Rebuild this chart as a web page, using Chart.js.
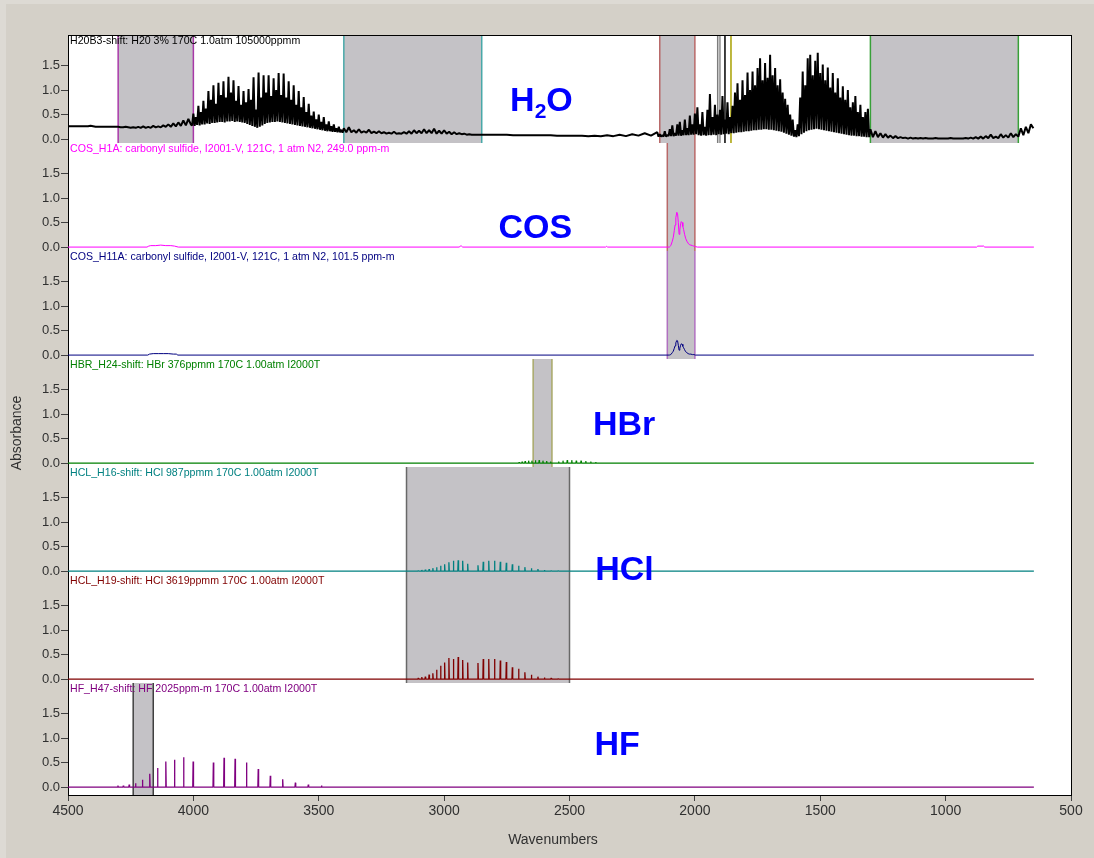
<!DOCTYPE html>
<html>
<head>
<meta charset="utf-8">
<title>Reference spectra</title>
<script src="https://cdn.jsdelivr.net/npm/chart.js@4.4.1/dist/chart.umd.min.js"></script>
<style>
  html, body { margin: 0; padding: 0; background: #d4d0c8; overflow: hidden; }
  #wrap { position: relative; width: 1094px; height: 858px; }
  #edge { position: absolute; left: 0; top: 0; width: 1094px; height: 858px; box-sizing: border-box;
          border-top: 4px solid #dddad4; border-left: 6px solid #dddad4; }
  #spectra { position: absolute; left: 0; top: 0; }
</style>
</head>
<body>
<div id="wrap"><div id="edge"></div><canvas id="spectra" width="1094" height="858"></canvas></div>
<script>
var FONT = '"Liberation Sans", Arial, sans-serif';

// axes
var xTicks = [4500, 4000, 3500, 3000, 2500, 2000, 1500, 1000, 500];
var yTicks = [0, 0.5, 1.0, 1.5];

// one entry per stacked panel, top to bottom
var panelTitles = [
  'H20B3-shift: H20 3% 170C 1.0atm 105000ppmm',
  'COS_H1A: carbonyl sulfide, I2001-V, 121C, 1 atm N2, 249.0 ppm-m',
  'COS_H11A: carbonyl sulfide, I2001-V, 121C, 1 atm N2, 101.5 ppm-m',
  'HBR_H24-shift: HBr 376ppmm 170C 1.00atm I2000T',
  'HCL_H16-shift: HCl 987ppmm 170C 1.00atm I2000T',
  'HCL_H19-shift: HCl 3619ppmm 170C 1.00atm I2000T',
  'HF_H47-shift: HF 2025ppm-m 170C 1.00atm I2000T'
];
var panelColors = ['#000000', '#ff00ff', '#000080', '#008000', '#008080', '#800000', '#800080'];
var panelMin = [-0.08, -0.08, -0.08, -0.08, -0.08, -0.08, -0.162];
var panelMax = 2.124;
var panelHeights = [108, 108, 108, 108, 108, 108, 112];

// big gas names
var bigLabels = ['H2O', 'COS', 'HBr', 'HCl', 'HF'];
var bigPanel = [0, 1, 3, 4, 6];
var bigWn = [2612, 2636, 2282, 2281, 2310];
var bigBase = [0.58, 0.19, 0.58, -0.18, 0.65];

// grey analysis regions (cm-1)
var regionPanel = [0, 0, 0, 0, 1, 2, 3, 4, 5, 6];
var regionFrom = [4300, 3400, 2140, 1300, 2110, 2110, 2645, 3150, 3150, 4240];
var regionTo = [4000, 2850, 2000, 710, 2000, 2000, 2570, 2500, 2500, 4160];
var regionEdge = ['#a838a8', '#48a8a8', '#b86868', '#38a038', '#b86868', '#b070c0', '#a8a868', '#686868', '#686868', '#404040'];

// off-scale water lines in the top panel
var markWn = [1909, 1900, 1880, 1856];
var markColor = ['#7c7c7c', '#8c8c8c', '#000000', '#a8a000'];

var h2oStart = [4500, 4005, 3400, 2850, 2145, 1300];
var h2oStep = [10, 5, 10, 25, 5, 10];
var h2oA = [
  .26,.26,.26,.26,.26,.26,.26,.26,.26,.27,
  .26,.25,.25,.25,.25,.25,.25,.25,.25,.25,
  .25,.24,.24,.25,.24,.23,.24,.23,.25,.23,
  .26,.23,.25,.23,.27,.24,.26,.24,.28,.25,
  .30,.25,.32,.26,.34,.27,.38,.28,.41,.30
];
var h2oB = [
  .28,.52,.27,.45,.29,.68,.28,.55,.30,.78,
  .30,.62,.32,.98,.31,.80,.33,1.10,.33,.72,
  .34,1.15,.35,.90,.35,1.18,.34,.85,.36,1.27,
  .36,.95,.37,1.20,.35,.78,.36,1.08,.35,.70,
  .34,.98,.33,.75,.31,1.02,.29,.80,.27,1.26,
  .25,.60,.23,1.36,.25,.85,.28,1.30,.31,.95,
  .33,1.30,.34,.88,.35,1.24,.35,1.00,.36,1.35,
  .35,.90,.34,1.34,.33,.85,.32,1.18,.31,.80,
  .30,1.10,.29,.70,.28,.98,.27,.65,.26,.86,
  .25,.55,.24,.72,.23,.48,.22,.56,.21,.40,
  .20,.50,.19,.35,.18,.45,.17,.30,.16,.36,
  .16,.26,.15,.30,.15,.22,.14,.25,.14,.19,
  .13
];
var h2oC = [
  .22,.14,.24,.14,.18,.13,.20,.13,.16,.13,
  .19,.12,.15,.12,.16,.12,.14,.11,.13,.11,
  .15,.11,.12,.11,.14,.11,.16,.11,.18,.12,
  .17,.12,.20,.12,.18,.12,.21,.11,.17,.11,
  .18,.11,.15,.10,.14,.10,.12,.10,.11,.09,
  .10,.09,.09,.09,.09
];
var h2oD = [
  .09,.09,.09,.09,.09,.08,.08,.08,.08,.08,
  .08,.08,.07,.07,.07,.07,.07,.06,.07,.06,
  .08,.06,.09,.06,.10,.07,.12,.07,.14
];
var h2oE = [
  .05,.10,.05,.08,.05,.16,.05,.09,.06,.20,
  .06,.28,.06,.12,.07,.30,.07,.35,.07,.18,
  .08,.40,.08,.22,.08,.48,.09,.30,.09,.52,
  .10,.65,.08,.30,.07,.55,.08,.25,.07,.60,
  .08,.92,.08,.45,.09,.70,.08,.50,.10,.60,
  .09,.88,.10,.40,.11,.75,.10,.45,.12,.68,
  .12,.95,.13,1.14,.14,.80,.14,1.20,.15,.90,
  .16,1.36,.16,1.00,.17,1.38,.18,1.10,.18,1.45,
  .19,1.65,.19,1.20,.20,1.55,.20,1.25,.19,1.72,
  .19,1.30,.18,1.45,.17,1.10,.16,1.22,.15,.95,
  .13,.82,.11,.70,.09,.50,.07,.40,.05,.18,
  .04,.30,.06,.85,.10,1.38,.13,1.10,.16,1.65,
  .18,1.72,.19,1.30,.20,1.60,.21,1.76,.20,1.35,
  .19,1.52,.18,1.20,.17,1.46,.16,1.05,.15,1.35,
  .14,.95,.13,1.24,.12,.85,.11,1.08,.10,.80,
  .09,1.00,.08,.65,.07,.75,.07,.88,.06,.55,
  .06,.70,.05,.45,.05,.55,.04,.62,
  .04
];
var h2oF = [
  .20,.04,.16,.04,.12,.03,.10,.03,.07,.02,
  .06,.02,.04,.02,.03,.01,.03,.01,.02,.01,
  .02,.01,.02,.01,.01,.01,.02,.01,.01,.01,
  .01,.01,.02,.01,.01,.01,.01,.01,.02,.01,
  .03,.01,.04,.01,.05,.01,.06,.02,.09,.02,
  .05,.02,.10,.03,.08,.03,.12,.04,.10,.05,
  .22,.08,.25,.12,.30,.22
];

// COS, 249.0 ppm-m and 101.5 ppm-m
var cos1Wn = [4500, 4185, 4178, 4170, 4150, 4130, 4110, 4090, 4075, 4060,
  2940, 2936, 2930, 2926, 2356, 2352, 2348,
  2102, 2096, 2090, 2086, 2082, 2079, 2076, 2072, 2069, 2066,
  2063, 2060, 2057, 2054, 2051, 2048, 2045, 2041, 2037, 2032,
  2027, 2022, 2016, 2010, 2004, 1998, 1990, 876, 872, 848, 844, 648];
var cos1Abs = [0, 0, .02, .03, .03, .04, .03, .03, .02, 0,
  0, .02, .02, 0, 0, .015, 0,
  0, .03, .12, .20, .34, .45, .60, .71, .68, .50,
  .26, .35, .48, .52, .50, .42, .36, .26, .18, .12,
  .08, .05, .04, .03, .02, .01, 0, 0, .02, .02, 0, 0];
var cos2Wn = [4500, 4182, 4175, 4160, 4140, 4120, 4100, 4080, 4068, 4062,
  2102, 2096, 2090, 2086, 2082, 2079, 2076, 2072, 2069, 2066,
  2063, 2060, 2057, 2054, 2051, 2048, 2045, 2041, 2037, 2032,
  2027, 2022, 2016, 2010, 2004, 1998, 648];
var cos2Abs = [0, 0, .02, .03, .03, .03, .03, .02, .02, 0,
  0, .01, .05, .08, .14, .19, .25, .30, .29, .20,
  .10, .14, .20, .23, .22, .18, .15, .11, .07, .05,
  .03, .02, .02, .01, .01, 0, 0];

// HBr line positions and peak absorbance
var hbrWn = [2701, 2689, 2677, 2663, 2650, 2636, 2621, 2606, 2591, 2575,
  2543, 2526, 2509, 2491, 2473, 2454, 2435, 2415, 2395];
var hbrAbs = [.02, .03, .04, .05, .05, .06, .06, .05, .04, .03,
  .03, .05, .06, .06, .05, .05, .04, .03, .02];

// HCl lines, 987 ppmm and 3619 ppmm
var hclWn = [3103, 3089, 3075, 3060, 3045, 3030, 3014, 2998, 2981, 2963, 2944, 2926, 2906,
  2865, 2844, 2822, 2799, 2776, 2752, 2728, 2703, 2678, 2652, 2626, 2600, 2573, 2545];
var hcl16Abs = [.01, .02, .03, .04, .06, .08, .11, .14, .18, .21, .22, .21, .15,
  .12, .19, .21, .21, .19, .17, .14, .11, .08, .06, .04, .02, .01, .005];
var hcl19Abs = [.02, .04, .05, .09, .12, .19, .27, .34, .43, .41, .45, .39, .34,
  .33, .41, .41, .41, .38, .35, .24, .21, .14, .09, .05, .03, .02, .01];

// HF lines
var hfWn = [4300.8, 4279.4, 4256.0, 4230.6, 4203.2, 4174.0, 4142.8, 4109.9, 4075.3, 4039.0, 4001.0,
  3920.3, 3877.7, 3833.7, 3788.2, 3741.4, 3693.2, 3643.8, 3593.3, 3541.7, 3489.1];
var hfAbs = [.03, .03, .05, .08, .15, .27, .39, .52, .56, .61, .52,
  .50, .60, .58, .50, .37, .23, .16, .09, .05, .03];

// ---- build the point lists the library wants ----
function pairs(wn, abs) {
  return wn.map(function (w, i) { return {x: w, y: abs[i]}; });
}

function sticks(wn, abs) {
  var pts = [{x: 4500, y: 0}];
  for (var i = 0; i < wn.length; i++) {
    pts.push({x: wn[i] + 1.5, y: 0}, {x: wn[i], y: abs[i]}, {x: wn[i] - 1.5, y: 0});
  }
  pts.push({x: 648, y: 0});
  return pts;
}

var h2oPoints = [];
[h2oA, h2oB, h2oC, h2oD, h2oE, h2oF].forEach(function (part, k) {
  part.forEach(function (v, i) { h2oPoints.push({x: h2oStart[k] - i * h2oStep[k], y: v}); });
});

var traces = [
  h2oPoints,
  pairs(cos1Wn, cos1Abs),
  pairs(cos2Wn, cos2Abs),
  sticks(hbrWn, hbrAbs),
  sticks(hclWn, hcl16Abs),
  sticks(hclWn, hcl19Abs),
  sticks(hfWn, hfAbs)
];
var traceWidth = [2, 1, 1, 1.2, 1.3, 1.3, 1.3];

var datasets = [];

// grey regions, drawn first (highest order = bottom)
regionFrom.forEach(function (from, i) {
  var p = regionPanel[i];
  datasets.push({
    data: [{x: from, y: panelMin[p]}, {x: from, y: panelMax}, {x: regionTo[i], y: panelMax}, {x: regionTo[i], y: panelMin[p]}],
    yAxisID: 'p' + p,
    borderColor: regionEdge[i],
    borderWidth: 1.5,
    backgroundColor: '#c4c2c6',
    fill: 'start',
    segment: { borderColor: function (ctx) { return ctx.p0DataIndex === 1 ? 'rgba(0,0,0,0)' : undefined; } },
    order: 3
  });
});

markWn.forEach(function (w, i) {
  datasets.push({
    data: [{x: w, y: panelMin[0]}, {x: w, y: panelMax}],
    yAxisID: 'p0',
    borderColor: markColor[i],
    borderWidth: 1.5,
    fill: false,
    order: 2
  });
});

traces.forEach(function (pts, i) {
  datasets.push({
    data: pts,
    yAxisID: 'p' + i,
    borderColor: panelColors[i],
    borderWidth: traceWidth[i],
    borderJoinStyle: 'bevel',
    fill: false,
    order: 1
  });
});

// ---- scales: one shared x axis, seven stacked y axes ----
var scales = {
  x: {
    type: 'linear', min: 500, max: 4500, reverse: true,
    afterBuildTicks: function (s) { s.ticks = xTicks.map(function (v) { return {value: v}; }); },
    afterFit: function (s) { s.height = 30; s.paddingLeft = 0; s.paddingRight = 0; },
    ticks: { color: '#303030', font: {family: FONT, size: 14}, padding: 2, maxRotation: 0, autoSkip: false,
             callback: function (v) { return String(v); } },
    grid: { drawOnChartArea: false, tickLength: 6, color: '#404040' },
    border: { color: '#000000', width: 1 }
  }
};
// the layout stacks the first-defined axis at the bottom, so add them bottom-up
for (var k = panelTitles.length - 1; k >= 0; k--) {
  scales['p' + k] = {
    type: 'linear', position: 'left', stack: 'panels', stackWeight: panelHeights[k],
    min: panelMin[k], max: panelMax,
    afterBuildTicks: function (s) { s.ticks = yTicks.map(function (v) { return {value: v}; }); },
    afterFit: function (s) { s.width = 40; s.paddingTop = 0; s.paddingBottom = 0; },
    ticks: { color: '#303030', font: {family: FONT, size: 13}, padding: 1,
             callback: function (v) { return Number(v).toFixed(1); } },
    grid: { drawOnChartArea: false, tickLength: 7, color: '#404040' },
    border: { color: '#000000', width: 1 }
  };
}

// white plot paper, panel captions, gas names, frame and axis titles
var decor = {
  id: 'decor',
  beforeDraw: function (chart) {
    var a = chart.chartArea, ctx = chart.ctx;
    ctx.save();
    ctx.fillStyle = '#ffffff';
    ctx.fillRect(a.left, a.top, a.right - a.left, a.bottom - a.top);
    ctx.restore();
  },
  afterDatasetsDraw: function (chart) {
    var ctx = chart.ctx, a = chart.chartArea, xs = chart.scales.x;
    ctx.save();
    ctx.textBaseline = 'top';
    ctx.textAlign = 'left';
    ctx.font = '10.6px ' + FONT;
    panelTitles.forEach(function (t, i) {
      ctx.fillStyle = panelColors[i];
      ctx.fillText(t, a.left + 2, chart.scales['p' + i].top + 1);
    });
    ctx.fillStyle = '#0000ff';
    ctx.textBaseline = 'alphabetic';
    bigLabels.forEach(function (lab, i) {
      var cx = xs.getPixelForValue(bigWn[i]);
      var by = chart.scales['p' + bigPanel[i]].getPixelForValue(bigBase[i]);
      if (lab === 'H2O') {
        ctx.font = 'bold 34px ' + FONT;
        var wH = ctx.measureText('H').width, wO = ctx.measureText('O').width;
        ctx.font = 'bold 21px ' + FONT;
        var w2 = ctx.measureText('2').width;
        var x0 = cx - (wH + w2 + wO) / 2;
        ctx.font = 'bold 34px ' + FONT;
        ctx.fillText('H', x0, by);
        ctx.fillText('O', x0 + wH + w2, by);
        ctx.font = 'bold 21px ' + FONT;
        ctx.fillText('2', x0 + wH, by + 7);
      } else {
        ctx.font = 'bold 34px ' + FONT;
        ctx.textAlign = 'center';
        ctx.fillText(lab, cx, by);
        ctx.textAlign = 'left';
      }
    });
    ctx.restore();
  },
  afterDraw: function (chart) {
    var ctx = chart.ctx, a = chart.chartArea;
    ctx.save();
    ctx.strokeStyle = '#000000';
    ctx.lineWidth = 1;
    ctx.beginPath();
    ctx.moveTo(Math.round(a.left), Math.round(a.top) + 0.5);
    ctx.lineTo(Math.round(a.right) + 1, Math.round(a.top) + 0.5);
    ctx.moveTo(Math.round(a.right) + 0.5, Math.round(a.top));
    ctx.lineTo(Math.round(a.right) + 0.5, Math.round(a.bottom));
    ctx.stroke();
    ctx.fillStyle = '#303030';
    ctx.font = '14px ' + FONT;
    ctx.textAlign = 'center';
    ctx.textBaseline = 'alphabetic';
    ctx.fillText('Wavenumbers', 553, 844);
    ctx.translate(21, 433);
    ctx.rotate(-Math.PI / 2);
    ctx.fillText('Absorbance', 0, 0);
    ctx.restore();
  }
};

new Chart(document.getElementById('spectra'), {
  type: 'line',
  data: { datasets: datasets },
  options: {
    responsive: false,
    animation: false,
    devicePixelRatio: 1,
    events: [],
    layout: { padding: { left: 28, top: 35, right: 23, bottom: 33 } },
    elements: { point: { radius: 0 }, line: { tension: 0 } },
    plugins: { legend: { display: false }, tooltip: { enabled: false } },
    scales: scales
  },
  plugins: [decor]
});
</script>
</body>
</html>
